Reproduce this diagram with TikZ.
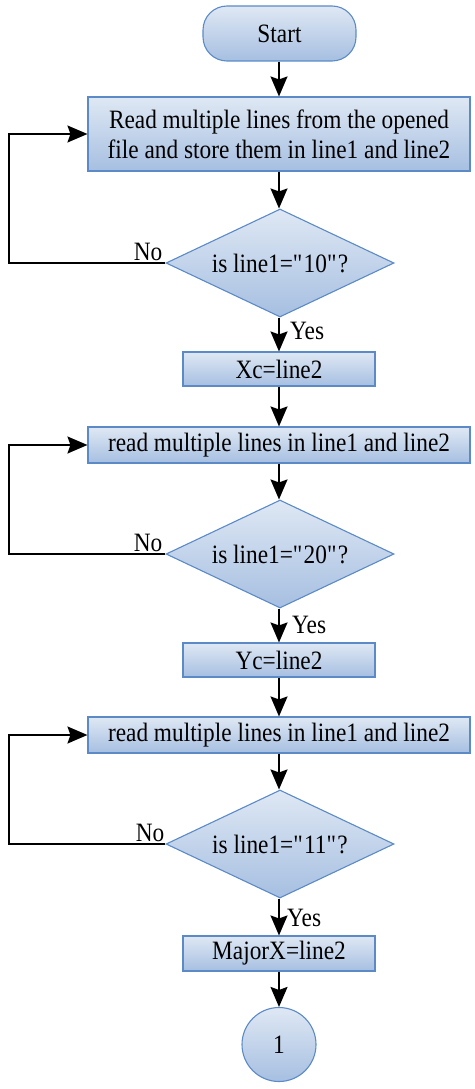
\documentclass[tikz,border=0pt]{standalone}
\usepackage{fontspec}
\setmainfont{Liberation Serif}[FakeStretch=0.88]
\usetikzlibrary{shapes.geometric,arrows.meta,calc}
\definecolor{boxtop}{HTML}{DFE8F4}
\definecolor{boxbot}{HTML}{A6BFE1}
\definecolor{boxline}{HTML}{5B8AC6}
\begin{document}
\begin{tikzpicture}[x=1pt,y=-1pt,
  every node/.style={font=\fontsize{26.5}{30}\selectfont},
  shaded/.style={draw=boxline, line width=1.1pt, top color=boxtop, bottom color=boxbot, inner sep=0pt},
  widebox/.style={shaded, rectangle, minimum width=382pt},
  smallbox/.style={shaded, rectangle, minimum width=192pt, minimum height=34pt},
  decide/.style={shaded, diamond, aspect=2.11, minimum width=228pt, minimum height=108pt},
  terminal/.style={shaded, rectangle, rounded corners=24pt, minimum width=153pt, minimum height=55pt},
  connector/.style={shaded, circle, minimum size=74pt},
  flow/.style={line width=1.8pt, -{Stealth[length=20pt,width=17pt,inset=3pt]}},
  lbl/.style={inner sep=0pt}
]
\useasboundingbox (0,0) rectangle (474,1089);

\node[terminal] (start) at (279.5,33.5) {Start};
\node[widebox, minimum height=74pt, align=center] (b1) at (279,134) {Read multiple lines from the opened\\file and store them in line1 and line2};
\node[decide] (d1) at (280,263) {is line1=\textquotedbl10\textquotedbl?};
\node[smallbox] (xc) at (279,369) {Xc=line2};
\node[widebox, minimum height=36pt] (b2) at (279,445) {read multiple lines in line1 and line2};
\node[decide] (d2) at (280,554) {is line1=\textquotedbl20\textquotedbl?};
\node[smallbox] (yc) at (279,660) {Yc=line2};
\node[widebox, minimum height=36pt] (b3) at (279,735) {read multiple lines in line1 and line2};
\node[decide] (d3) at (280,844) {is line1=\textquotedbl11\textquotedbl?};
\node[smallbox, minimum height=35pt] (mx) at (279,953.5) {MajorX=line2};
\node[connector] (c1) at (279,1044.5) {1};

\coordinate (l1) at (9,263);
\coordinate (l1t) at (9,134);
\coordinate (l2) at (9,554);
\coordinate (l2t) at (9,445);
\coordinate (l3) at (9,844);
\coordinate (l3t) at (9,735);

\draw[flow] (start.south -| 279,0) -- (b1.north -| 279,0);
\draw[flow] (b1.south -| 279,0) -- (d1.north -| 279,0);
\draw[flow] (d1.south -| 279,0) -- (xc.north -| 279,0);
\draw[flow] (xc.south -| 279,0) -- (b2.north -| 279,0);
\draw[flow] (b2.south -| 279,0) -- (d2.north -| 279,0);
\draw[flow] (d2.south -| 279,0) -- (yc.north -| 279,0);
\draw[flow] (yc.south -| 279,0) -- (b3.north -| 279,0);
\draw[flow] (b3.south -| 279,0) -- (d3.north -| 279,0);
\draw[flow] (d3.south -| 279,0) -- (mx.north -| 279,0);
\draw[flow] (mx.south -| 279,0) -- (c1.north);

\draw[flow] (d1.west) -- (l1) -- (l1t) -- (b1.west);
\draw[flow] (d2.west) -- (l2) -- (l2t) -- (b2.west);
\draw[flow] (d3.west) -- (l3) -- (l3t) -- (b3.west);

\node[lbl, anchor=south east] (no1) at ($(d1.west)+(-3,-2)$) {No};
\node[lbl, anchor=south east] (no2) at ($(d2.west)+(-3,-2)$) {No};
\node[lbl, anchor=south east] (no3) at ($(d3.west)+(-1,-2)$) {No};
\node[lbl, anchor=west] (y1) at (290,331) {Yes};
\node[lbl, anchor=west] (y2) at (292,625) {Yes};
\node[lbl, anchor=west] (y3) at (287,918) {Yes};
\end{tikzpicture}
\end{document}
